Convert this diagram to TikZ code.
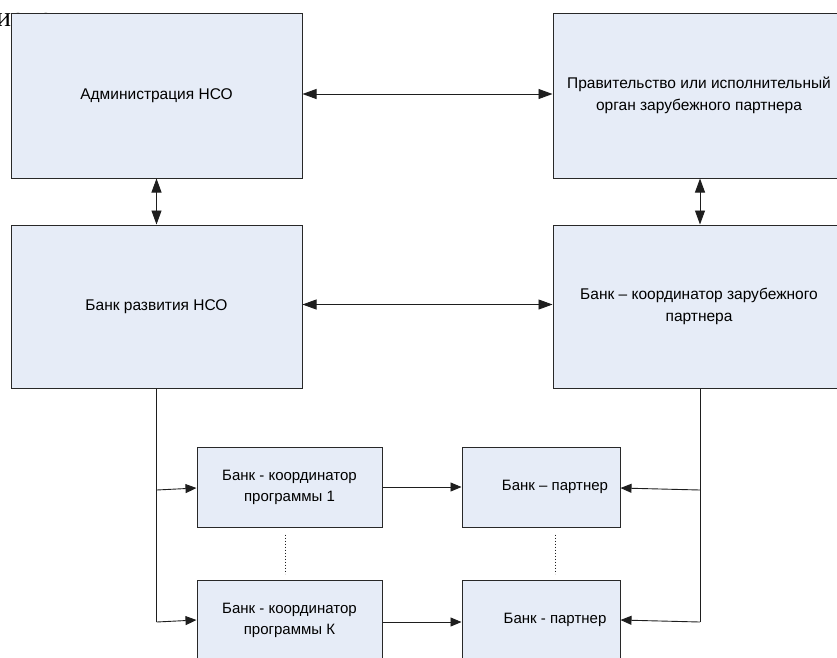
\documentclass[tikz,border=0pt]{standalone}
\usepackage{fontspec}
\setmainfont{Liberation Sans}
\newfontfamily\serifc{Liberation Serif}
\usetikzlibrary{arrows.meta}
\definecolor{boxfill}{RGB}{230,236,247}
\definecolor{boxline}{RGB}{40,40,40}
\definecolor{arrline}{RGB}{30,30,30}
\begin{document}
\begin{tikzpicture}[x=1pt,y=-1pt,
  box/.style={draw=boxline,fill=boxfill,line width=1pt,inner sep=0pt,align=center,
    font=\fontsize{15.5}{22}\selectfont},
  bigbox/.style={box,minimum width=291pt,minimum height=165pt},
  smallbox/.style={box,minimum height=80pt,font=\fontsize{15}{21}\selectfont},
  conn/.style={draw=arrline,line width=0.9pt},
  tip/.style={-{Triangle[length=11pt,width=9pt]}},
  dtip/.style={{Triangle[length=14pt,width=10pt]}-{Triangle[length=14pt,width=10pt]}},
  dots/.style={draw=arrline,line width=0.8pt,dash pattern=on 0.8pt off 2.2pt}]
\useasboundingbox (0,0) rectangle (837,657);
\clip (0,0) rectangle (837,657);
\node[anchor=base west,font=\serifc\fontsize{28}{30}\selectfont,inner sep=0pt] (prev) at (-4,26) {иолов};
\node[bigbox] (A) at (156.5,95.5) {Администрация НСО};
\node[bigbox,minimum width=292pt] (B) at (699,95.5) {Правительство или исполнительный\\орган зарубежного партнера};
\node[bigbox,minimum height=163pt] (C) at (156.5,306.5) {Банк развития НСО};
\node[bigbox,minimum width=292pt,minimum height=163pt] (D) at (699,306.5) {Банк -- координатор зарубежного\\партнера};
\node[smallbox,minimum width=185pt] (E1) at (289.5,487) {Банк - координатор\\программы 1};
\node[smallbox,minimum width=158pt] (F1) at (541,487) {\hspace*{28pt}Банк -- партнер};
\node[smallbox,minimum width=185pt] (E2) at (289.5,620) {Банк - координатор\\программы К};
\node[smallbox,minimum width=158pt] (F2) at (541,620) {\hspace*{28pt}Банк - партнер};
\coordinate (l1) at (156.5,490);
\coordinate (l2) at (156.5,622);
\coordinate (r1) at (700,490);
\coordinate (r2) at (700,622);
% top connectors
\draw[conn,dtip] ([yshift=1.5pt]A.east) -- ([yshift=1.5pt]B.west);
\draw[conn,dtip] (A.south) -- (C.north);
\draw[conn,dtip] ([xshift=1pt]B.south) -- ([xshift=1pt]D.north);
\draw[conn,dtip] ([yshift=2pt]C.east) -- ([yshift=2pt]D.west);
% left trunk
\draw[conn] (C.south) -- (l2);
\draw[conn,tip] (l1) -- ([yshift=-1pt]E1.west);
\draw[conn,tip] (l2) -- (E2.west);
% right trunk
\draw[conn] ([xshift=1pt]D.south) -- (r2);
\draw[conn,tip] (r1) -- ([yshift=-1pt]F1.east);
\draw[conn,tip] (r2) -- (F2.east);
% programme to partner
\draw[conn,tip] (E1.east) -- (F1.west);
\draw[conn,tip] ([yshift=-2pt]E2.east) -- ([yshift=-2pt]F2.west);
% dotted continuations
\draw[dots] ([xshift=-4.5pt,yshift=-7pt]E1.south) -- ([xshift=-4.5pt,yshift=6pt]E2.north);
\draw[dots] ([xshift=14pt,yshift=-7pt]F1.south) -- ([xshift=14pt,yshift=6pt]F2.north);
\end{tikzpicture}
\end{document}
